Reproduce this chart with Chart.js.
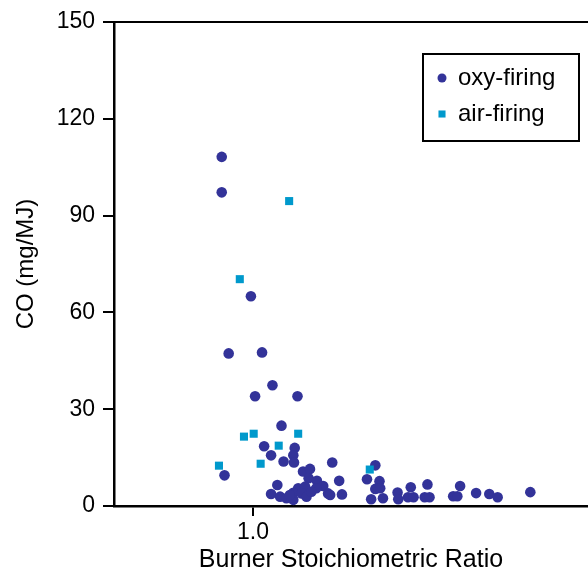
<!DOCTYPE html>
<html><head><meta charset="utf-8">
<script src="https://cdn.jsdelivr.net/npm/chart.js@4/dist/chart.umd.min.js"></script>
<style>html,body{margin:0;padding:0;background:#fff;overflow:hidden}canvas{display:block}</style>
</head><body><canvas id="c" width="588" height="576"></canvas>
<script>
const oxyRatio = [0.955,0.955,0.997,0.965,1.013,1.028,1.003,1.064,1.041,1.016,1.060,1.026,1.058,1.044,1.059,0.959,1.114,1.072,1.082,1.080,1.092,1.124,1.035,1.065,1.075,1.101,1.091,1.026,1.039,1.048,1.058,1.058,1.070,1.077,1.084,1.108,1.111,1.128,1.053,1.176,1.164,1.182,1.176,1.183,1.170,1.187,1.208,1.209,1.227,1.223,1.231,1.251,1.247,1.254,1.298,1.288,1.294,1.321,1.340,1.352,1.399];
const oxyCO = [108.2,97.2,65.0,47.3,47.6,37.4,34.0,34.0,24.9,18.5,18.0,15.7,15.7,13.8,13.5,9.5,13.5,10.7,11.5,8.6,7.8,7.8,6.5,5.5,6.0,6.2,5.5,3.7,2.9,2.4,1.9,4.1,3.9,2.9,4.4,3.9,3.4,3.6,3.4,12.6,8.3,7.7,5.3,5.5,2.1,2.4,4.2,2.1,5.8,2.7,2.7,6.7,2.7,2.7,6.2,3.0,3.0,4.0,3.7,2.7,4.3];
const airRatio = [1.052,0.981,0.987,1.001,1.065,1.037,1.011,0.951,1.168];
const airCO = [94.5,70.3,21.5,22.4,22.4,18.7,13.1,12.5,11.3];
const xTicks = [1.0];
const yTicks = [0,30,60,90,120,150];
const seriesNames = ['oxy-firing','air-firing'];

const FONT = "'Liberation Sans', Arial, Helvetica, sans-serif";
Chart.defaults.font.family = FONT;
Chart.defaults.color = '#000';

const frameTop = {
  id: 'frameTop',
  afterDraw(chart) {
    const ca = chart.chartArea, ctx = chart.ctx;
    ctx.save();
    ctx.strokeStyle = '#000';
    ctx.lineWidth = 2;
    ctx.beginPath();
    ctx.moveTo(ca.left, ca.top);
    ctx.lineTo(ca.right, ca.top);
    ctx.stroke();
    ctx.restore();
  }
};

const legendBox = {
  id: 'legendBox',
  afterDraw(chart) {
    const ctx = chart.ctx, ca = chart.chartArea;
    const w = 156, h = 87;
    const x0 = ca.right - 9 - w, y0 = ca.top + 32;
    ctx.save();
    ctx.fillStyle = '#fff';
    ctx.fillRect(x0, y0, w, h);
    ctx.strokeStyle = '#000';
    ctx.lineWidth = 2;
    ctx.strokeRect(x0, y0, w, h);
    const legendOrder = [0, 1];
    legendOrder.forEach((di, i) => {
      const ds = chart.data.datasets[di];
      const cy = y0 + 24 + i * 36;
      ctx.fillStyle = ds.backgroundColor;
      Chart.helpers.drawPoint(ctx, {pointStyle: ds.pointStyle, radius: ds.pointStyle === 'rect' ? 5 : 4.5, borderWidth: 0, rotation: 0}, x0 + 19, cy);
      ctx.fillStyle = '#000';
      ctx.font = "24px " + FONT;
      ctx.textBaseline = 'middle';
      ctx.textAlign = 'left';
      ctx.fillText(ds.label, x0 + 35, cy);
    });
    ctx.restore();
  }
};

new Chart(document.getElementById('c'), {
  type: 'scatter',
  data: {
    datasets: [
      {
        label: seriesNames[0],
        data: oxyRatio.map((x, i) => ({x, y: oxyCO[i]})),
        pointStyle: 'circle',
        pointRadius: 5.3,
        backgroundColor: '#333399',
        borderWidth: 0,
        order: 1
      },
      {
        label: seriesNames[1],
        data: airRatio.map((x, i) => ({x, y: airCO[i]})),
        pointStyle: 'rect',
        pointRadius: 5.7,
        backgroundColor: '#0099cc',
        borderWidth: 0,
        order: 0
      }
    ]
  },
  options: {
    responsive: false,
    animation: false,
    devicePixelRatio: 1,
    layout: {autoPadding: false, padding: {top: 22, right: 0, bottom: 0, left: 0}},
    plugins: {legend: {display: false}, tooltip: {enabled: false}},
    scales: {
      x: {
        type: 'linear',
        min: 0.8,
        max: 1.482,
        afterBuildTicks: s => { s.ticks = xTicks.map(v => ({value: v})); },
        afterFit: s => { s.height = 70; },
        ticks: {color: '#000', font: {size: 23}, padding: 3, callback: v => Number(v).toFixed(1)},
        grid: {display: true, drawOnChartArea: false, drawTicks: true, tickLength: 10, color: '#000', lineWidth: 2},
        border: {display: true, color: '#000', width: 2.5},
        title: {display: true, text: 'Burner Stoichiometric Ratio', color: '#000', font: {size: 25}, padding: {top: 0, bottom: 1}}
      },
      y: {
        min: 0,
        max: 150,
        afterBuildTicks: s => { s.ticks = yTicks.map(v => ({value: v})); },
        afterFit: s => { s.width = 114; },
        ticks: {color: '#000', font: {size: 23}, padding: 8, callback: v => String(v)},
        grid: {display: true, drawOnChartArea: false, drawTicks: true, tickLength: 11, color: '#000', lineWidth: 2},
        border: {display: true, color: '#000', width: 2.5},
        title: {display: true, text: 'CO (mg/MJ)', color: '#000', font: {size: 24}, padding: {top: 12, bottom: 0}}
      }
    }
  },
  plugins: [frameTop, legendBox]
});
</script>
</body></html>
